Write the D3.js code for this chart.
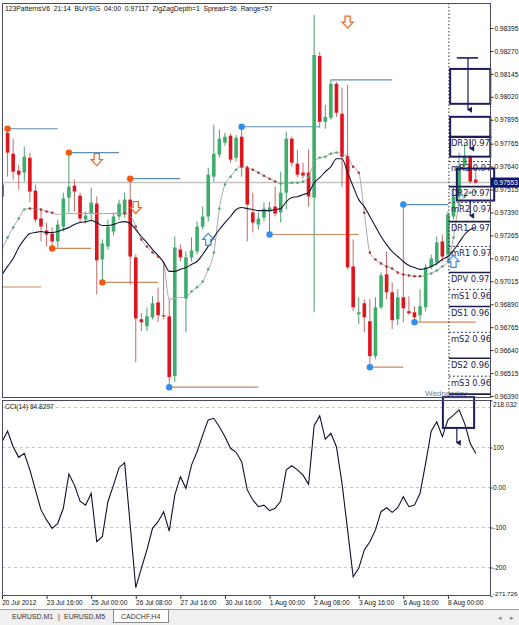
<!DOCTYPE html>
<html><head><meta charset="utf-8">
<script src="https://cdn.jsdelivr.net/npm/d3@7"></script>
<style>
html,body{margin:0;padding:0;background:#fff;}
svg{display:block;font-family:"Liberation Sans",Arial,sans-serif;}
</style></head><body>
<svg id="chart" width="519" height="625"></svg>
<script>
// ---------------- DATA ----------------
const opens = [.97542,.97824,.97710,.97618,.97607,.97688,.97509,.97357,.97292,.97275,.97232,.97313,.97471,.97536,.97482,.97351,.97384,.97438,.97134,.97205,.97286,.97368,.97384,.97460,.97145,.96808,.96770,.96819,.96900,.96830,.96824,.96498,.97188,.96922,.97145,.97178,.97313,.97368,.97585,.97705,.97770,.97808,.97688,.97803,.97634,.97390,.97324,.97362,.97395,.97422,.97390,.97498,.97792,.97656,.97607,.97607,.97471,.98243,.97884,.97906,.98091,.97928,.97694,.97096,.96835,.96895,.96797,.96607,.96873,.97053,.96955,.96808,.96928,.96852,.96846,.96830,.96873,.97091,.97118,.97232,.97161,.97368,.97477,.97645,.97694,.97569];
const highs = [.97558,.97846,.97792,.97650,.97748,.97716,.97542,.97406,.97335,.97308,.97351,.97498,.97716,.97569,.97498,.97395,.97525,.97477,.97243,.97351,.97390,.97460,.97498,.97574,.97161,.96841,.96873,.96933,.96982,.97118,.96917,.97259,.97216,.97178,.97254,.97341,.97422,.97634,.97868,.97841,.97824,.97819,.97813,.97857,.97645,.97498,.97390,.97444,.97449,.97531,.97612,.97830,.97803,.97732,.97661,.97732,.98466,.98265,.97976,.98112,.98101,.98069,.98085,.97243,.96928,.96917,.96917,.96928,.97063,.97178,.97009,.96971,.97433,.96933,.96879,.96971,.97107,.97161,.97259,.97270,.97395,.97531,.97716,.97770,.97705,.97612];
const lows = [.97460,.97585,.97569,.97515,.97558,.97444,.97335,.97232,.97205,.97194,.97199,.97286,.97390,.97395,.97335,.97330,.97341,.96944,.97009,.97188,.97265,.97351,.97362,.96998,.96574,.96743,.96743,.96808,.96792,.96808,.96438,.96466,.97123,.96737,.97123,.97161,.97297,.97341,.97558,.97688,.97754,.97661,.97667,.97585,.97232,.97281,.97297,.97341,.97270,.97368,.97335,.97406,.97639,.97580,.97574,.97422,.96846,.97851,.97846,.97895,.97911,.97531,.97080,.96852,.96781,.96737,.96547,.96591,.96863,.96917,.96754,.96775,.96792,.96830,.96792,.96797,.96852,.97080,.97101,.97123,.97123,.97351,.97460,.97634,.97547,.97547];
const closes = [.97477,.97716,.97612,.97596,.97694,.97504,.97351,.97313,.97270,.97232,.97324,.97466,.97531,.97504,.97357,.97373,.97444,.97129,.97221,.97313,.97368,.97438,.97460,.97150,.96813,.96792,.96824,.96895,.96830,.96824,.96493,.97199,.97145,.97145,.97183,.97313,.97368,.97596,.97710,.97792,.97803,.97678,.97797,.97634,.97433,.97335,.97357,.97411,.97417,.97384,.97498,.97792,.97661,.97596,.97591,.97477,.98248,.97884,.97911,.98091,.97933,.97694,.97091,.96873,.96846,.96819,.96607,.96873,.97047,.96955,.96803,.96928,.96868,.96841,.96819,.96879,.97091,.97139,.97227,.97150,.97379,.97477,.97645,.97694,.97558,.97553];
const maSlow = [.97052,.97096,.97139,.97199,.97243,.97275,.97281,.97286,.97281,.97281,.97286,.97297,.97308,.97324,.97335,.97340,.97346,.97335,.97319,.97319,.97324,.97335,.97340,.97330,.97297,.97259,.97226,.97188,.97156,.97118,.97069,.97069,.97080,.97090,.97107,.97123,.97161,.97205,.97254,.97297,.97335,.97368,.97406,.97417,.97411,.97406,.97400,.97400,.97400,.97406,.97411,.97449,.97471,.97476,.97487,.97498,.97552,.97580,.97612,.97639,.97683,.97683,.97607,.97531,.97460,.97422,.97368,.97313,.97259,.97215,.97177,.97150,.97123,.97101,.97090,.97080,.97085,.97096,.97112,.97134,.97150,.97183,.97226,.97270,.97297,.97308];
const maFast = [.97188,.97254,.97308,.97357,.97406,.97411,.97411,.97406,.97395,.97389,.97378,.97384,.97384,.97384,.97384,.97384,.97384,.97384,.97384,.97384,.97384,.97384,.97384,.97373,.97313,.97243,.97205,.97172,.97150,.97112,.96917,.96922,.96927,.96927,.96960,.96982,.97014,.97080,.97172,.97411,.97542,.97585,.97623,.97645,.97634,.97623,.97607,.97590,.97574,.97558,.97547,.97547,.97552,.97552,.97558,.97585,.97661,.97688,.97694,.97710,.97716,.97710,.97694,.97639,.97607,.97389,.97172,.97134,.97112,.97096,.97085,.97063,.97052,.97047,.97042,.97042,.97047,.97058,.97074,.97096,.97123,.97254,.97433,.97476,.97498,.97503];
const maFastDots = "gggggrrrrrnnnnnnnnnnnnrrrrrrrnnnnggggggggggrrrrrrrgggggggggggrrrrrrrrrrrrrrrggggggggggg";
const cci = [114.5,141,102,75.5,85.5,44,-6,-56,-81,-102,-89.5,-52,34,6,-34,-44,-14.5,-135.5,-123,-35.5,6,49.5,62,-94,-250.5,-202,-156,-102,-85.5,-60.5,-109,-19,27,-2,56,89.5,131,169,173,152,127,98,88,64.5,-6,-31,-48,-44,-58,-52,-34,44,54.5,44,31,8,154.5,179.5,121,135.5,102,10.5,-106,-223,-202,-156,-135.5,-106,-60.5,-50.5,-62,-50.5,-23,-48,-44,-14.5,60.5,141,164.5,127,169,181,194,160.5,110.5,84.83];
const timeLabels = ["20 Jul 2012","23 Jul 16:00","25 Jul 00:00","26 Jul 08:00","27 Jul 16:00","30 Jul 16:00","1 Aug 00:00","2 Aug 08:00","3 Aug 16:00","6 Aug 16:00","8 Aug 00:00"];
const timeIndex = [0,8,16,24,32,40,48,56,64,72,80];
const priceTicks = ["0.98395","0.98270","0.98145","0.98020","0.97895","0.97765","0.97640","0.97515","0.97390","0.97265","0.97140","0.97015","0.96890","0.96765","0.96640","0.96515","0.96390"];
const cciTicks = [218.032,100,0,-100,-200,-271.726];
const cciTickLabels = ["218.032","100","0.00","-100","-200","-271.726"];
const cciGrid = [200,100,0,-100,-200];
// zigzag pivots: bar, price, end bar, kind(high/low), dot colour key
const pivotBar   = [1,12,23,9,18,30,43,48,59,66,72,74,0];
const pivotPrice = [.97846,.97716,.97574,.97194,.97009,.96438,.97857,.97270,.98112,.96547,.97433,.96792,.96984];
const pivotEnd   = [10,21,32,16,28,46,57,64,70,72,80,85,7];
const pivotKind  = ["H","H","H","L","L","L","H","L","H","L","H","L","L"];
const pivotDot   = ["o","o","o","o","o","b","b","b","","b","b","b",""];
// signal arrows
const arrowBar   = [17,24,62,37,81];
const arrowPrice = [.97678,.97417,.98427,.97243,.97123];
const arrowDir   = ["down","down","down","up","up"];
// daily pivot levels (label shows the part visible before the price scale)
const levelNames  = ["DR3","mR3","DR2","mR2","DR1","mR1","DPV","mS1","DS1","mS2","DS2","mS3","DS3"];
const levelValues = [.97802,.97667,.97531,.97444,.97340,.97205,.97063,.96971,.96878,.96737,.96596,.96498,.96400];
const dayStartBar = 80;
const bidPrice = 0.97553;
// pattern boxes [bar0, bar1, price0, price1]
const boxes = [[80.4,87.6,.98172,.97982],[80.4,87.6,.97911,.97802],[80.4,87.6,.97802,.97694],[81.6,88.3,.97629,.97455]];
const cciBox = [79.1,84.7,226,149];

// ---------------- LAYOUT ----------------
const svg = d3.select('#chart');
const L = 2, R = 491, mainTop = 3, mainBot = 398, cciTop = 400, cciBot = 596;
const x = d3.scaleLinear().domain([0, 85]).range([2, 2 + 85 * 5.574]);
const y = d3.scaleLinear().domain([0.96390, 0.98395]).range([396, 28]);
const yc = d3.scaleLinear().domain([-271.726, 218.032]).range([596.2, 400.3]);
const navy = "#1c1c5e";

const defs = svg.append("defs");
defs.append("clipPath").attr("id","cm").append("rect").attr("x",L).attr("y",mainTop).attr("width",R-L).attr("height",mainBot-mainTop);
defs.append("clipPath").attr("id","cc").append("rect").attr("x",L).attr("y",cciTop).attr("width",R-L).attr("height",cciBot-cciTop);
defs.append("clipPath").attr("id","cl").append("rect").attr("x",L).attr("y",mainTop).attr("width",R-L-1).attr("height",mainBot-mainTop);
const mk = defs.append("marker").attr("id","ah").attr("viewBox","0 0 6 6").attr("refX",3).attr("refY",5)
  .attr("markerWidth",5).attr("markerHeight",5).attr("orient","auto-start-reverse");
mk.append("path").attr("d","M0,1 L3,6 L6,1 Z").attr("fill",navy);

svg.append("rect").attr("width",519).attr("height",625).attr("fill","#fff");

const main = svg.append("g").attr("clip-path","url(#cm)");

// bid line
main.append("line").attr("x1",L).attr("x2",R).attr("y1",y(bidPrice)).attr("y2",y(bidPrice))
  .attr("stroke","#c4c4c4").attr("stroke-width",1.6);

// pivot horizontal lines
pivotBar.forEach((b,k)=>{
  main.append("line").attr("x1",x(b)).attr("x2",x(pivotEnd[k])).attr("y1",y(pivotPrice[k])).attr("y2",y(pivotPrice[k]))
    .attr("stroke", pivotKind[k]==="H" ? "#5d8fb3" : "#c98a5e").attr("stroke-width",1.2);
});

// candles
const idx = d3.range(opens.length);
const cw = 3.6;
main.append("g").selectAll("line").data(idx).join("line")
  .attr("x1",i=>x(i)).attr("x2",i=>x(i)).attr("y1",i=>y(highs[i])).attr("y2",i=>y(lows[i]))
  .attr("stroke",i=>closes[i]>=opens[i] ? "#4e9d6e" : "#c46a6a").attr("stroke-width",1);
main.append("g").selectAll("rect").data(idx).join("rect")
  .attr("x",i=>x(i)-cw/2).attr("width",cw)
  .attr("y",i=>y(Math.max(opens[i],closes[i])))
  .attr("height",i=>Math.max(1.2, Math.abs(y(opens[i])-y(closes[i]))))
  .attr("fill",i=>closes[i]>=opens[i] ? "#3fae6c" : "#e0141c");

// moving averages
const lineGen = arr => d3.line().x((d,i)=>x(i)).y(d=>y(d)).curve(d3.curveMonotoneX)(arr);
main.append("path").attr("d",lineGen(maFast)).attr("fill","none").attr("stroke","#a8a8a8").attr("stroke-width",1);
main.append("path").attr("d",lineGen(maSlow)).attr("fill","none").attr("stroke","#141432").attr("stroke-width",1.1);
main.append("g").selectAll("circle").data(idx.filter(i=>maFastDots[i]!=="n")).join("circle")
  .attr("cx",i=>x(i)).attr("cy",i=>y(maFast[i])).attr("r",1.25)
  .attr("fill",i=>maFastDots[i]==="g" ? "#3fae6c" : "#b52a2a");

// zigzag dots
pivotBar.forEach((b,k)=>{
  if(!pivotDot[k]) return;
  main.append("circle").attr("cx",x(b)).attr("cy",y(pivotPrice[k])).attr("r",3.2)
    .attr("fill", pivotDot[k]==="o" ? "#ee5a12" : "#2f8ff0");
});

// hollow arrows
arrowBar.forEach((b,k)=>{
  const cx = x(b), cy = y(arrowPrice[k]);
  const s = arrowDir[k]==="down" ? 1 : -1;
  const p = [[cx-2.6,cy-6*s],[cx+2.6,cy-6*s],[cx+2.6,cy],[cx+5.6,cy],[cx,cy+6*s],[cx-5.6,cy],[cx-2.6,cy]];
  main.append("path").attr("d","M"+p.map(q=>q.join(",")).join("L")+"Z")
    .attr("fill","#fff").attr("fill-opacity",0.6)
    .attr("stroke", arrowDir[k]==="down" ? "#e8642c" : "#3d8ee0").attr("stroke-width",1.2);
});

// day separator
const sepX = x(dayStartBar)+1;
main.append("line").attr("x1",sepX).attr("x2",sepX).attr("y1",mainTop).attr("y2",mainBot)
  .attr("stroke","#333").attr("stroke-dasharray","1.5,2").attr("stroke-width",1);

// pivot levels
const lv = svg.append("g").attr("clip-path","url(#cl)");
levelNames.forEach((n,k)=>{
  const yy = y(levelValues[k]);
  const solid = n[0]==="D";
  lv.append("line").attr("x1",sepX).attr("x2",R).attr("y1",yy).attr("y2",yy)
    .attr("stroke", solid ? "#1f1f4f" : "#3a3a5a").attr("stroke-width", solid ? 1.6 : 1)
    .attr("stroke-dasharray", solid ? null : "2,2");
  if (yy + 9.5 < mainBot) {
    lv.append("text").attr("x",sepX+2).attr("y",yy+9.5).attr("font-size","8.4px").attr("fill","#22224a")
      .attr("font-family","'DejaVu Sans',sans-serif").text(n+" "+levelValues[k].toFixed(5).slice(0,4));
  }
});

// Wednesday label
main.append("text").attr("x",425).attr("y",395.5).attr("font-size","8px").attr("fill","#6e7d96").text("Wednesday");

// pattern boxes
boxes.forEach(b=>{
  svg.append("rect").attr("x",x(b[0])).attr("y",y(b[2])).attr("width",x(b[1])-x(b[0])).attr("height",y(b[3])-y(b[2]))
    .attr("fill","none").attr("stroke",navy).attr("stroke-width",2);
});
svg.append("line").attr("x1",x(81.6)).attr("x2",x(85.4)).attr("y1",y(.98232)).attr("y2",y(.98232)).attr("stroke",navy).attr("stroke-width",1.6);
svg.append("line").attr("x1",x(83.6)).attr("x2",x(83.6)).attr("y1",y(.98232)).attr("y2",y(.97950)).attr("stroke",navy).attr("stroke-width",1.2).attr("marker-end","url(#ah)");
svg.append("line").attr("x1",x(84)).attr("x2",x(84)).attr("y1",y(.97790)).attr("y2",y(.97738)).attr("stroke",navy).attr("stroke-width",1.2).attr("marker-end","url(#ah)");
svg.append("line").attr("x1",x(84)).attr("x2",x(84)).attr("y1",y(.97455)).attr("y2",y(.97372)).attr("stroke",navy).attr("stroke-width",1.2).attr("marker-end","url(#ah)");

// ---------------- CCI ----------------
const cg = svg.append("g").attr("clip-path","url(#cc)");
cciGrid.forEach(v=>{
  cg.append("line").attr("x1",L).attr("x2",R).attr("y1",yc(v)).attr("y2",yc(v))
    .attr("stroke","#b8b8b8").attr("stroke-dasharray","3,3").attr("stroke-width",0.8);
});
cg.append("path").attr("d", d3.line().x((d,i)=>x(i)).y(d=>yc(d))(cci))
  .attr("fill","none").attr("stroke","#10102a").attr("stroke-width",1.1);
svg.append("rect").attr("x",x(cciBox[0])).attr("y",yc(cciBox[2])).attr("width",x(cciBox[1])-x(cciBox[0])).attr("height",yc(cciBox[3])-yc(cciBox[2]))
  .attr("fill","none").attr("stroke",navy).attr("stroke-width",2);
svg.append("line").attr("x1",x(81.6)).attr("x2",x(81.6)).attr("y1",yc(cciBox[3])).attr("y2",yc(112)).attr("stroke",navy).attr("stroke-width",1.2).attr("marker-end","url(#ah)");
svg.append("text").attr("x",5).attr("y",408.5).attr("font-size","6.6px").attr("fill","#111").text("CCI(14) 84.8297");

// panel borders
svg.append("rect").attr("x",L+0.5).attr("y",mainTop+0.5).attr("width",R-L-1).attr("height",mainBot-mainTop-1).attr("fill","none").attr("stroke","#4a4a60");
svg.append("rect").attr("x",L+0.5).attr("y",cciTop+0.5).attr("width",R-L-1).attr("height",cciBot-cciTop-1).attr("fill","none").attr("stroke","#4a4a60");

// ---------------- AXES ----------------
const axFont = "6.6px";
const pa = svg.append("g").attr("transform",`translate(${R-0.5},0)`)
  .call(d3.axisRight(y).tickValues(priceTicks.map(Number)).tickFormat((d,i)=>priceTicks[i]).tickSize(3).tickPadding(1));
pa.select(".domain").remove();
pa.selectAll("text").attr("font-size",axFont).attr("font-family","'Liberation Sans',Arial,sans-serif").attr("fill","#111");
pa.selectAll("line").attr("stroke","#333");

// current price tag
svg.append("rect").attr("x",R).attr("y",y(bidPrice)-5).attr("width",28).attr("height",10).attr("fill","#0a1470");
svg.append("text").attr("x",R+3).attr("y",y(bidPrice)+2.4).attr("font-size",axFont).attr("fill","#fff").text(bidPrice.toFixed(5));

const ca = svg.append("g").attr("transform",`translate(${R-0.5},0)`)
  .call(d3.axisRight(yc).tickValues(cciTicks).tickFormat((d,i)=>cciTickLabels[i]).tickSize(2).tickPadding(0.5));
ca.select(".domain").remove();
ca.selectAll("text").attr("font-size",axFont).attr("font-family","'Liberation Sans',Arial,sans-serif").attr("fill","#111")
  .attr("dy",(d,i)=> i===0 ? "0.95em" : (i===cciTicks.length-1 ? "-0.1em" : "0.32em"));
ca.selectAll("text").filter((d,i)=>i===cciTicks.length-1).attr("font-size","6.2px");
ca.selectAll("line").attr("stroke","#333");

const ta = svg.append("g").attr("transform",`translate(0,${cciBot})`)
  .call(d3.axisBottom(x).tickValues(timeIndex).tickFormat((d,i)=>timeLabels[i]).tickSize(3).tickPadding(1));
ta.select(".domain").remove();
ta.selectAll("text").attr("font-size",axFont).attr("font-family","'Liberation Sans',Arial,sans-serif").attr("fill","#111")
  .attr("text-anchor","start").attr("dx","-0.3");
ta.selectAll("line").attr("stroke","#333");

// header
svg.append("text").attr("x",5).attr("y",10.5).attr("font-size","6.8px").attr("fill","#111").style("white-space","pre")
  .text("123PatternsV6  21:14  BUYSIG  04:00  0.97117  ZigZagDepth=1  Spread=36  Range=57");

// tab bar
svg.append("rect").attr("x",0).attr("y",609).attr("width",519).attr("height",16).attr("fill","#f0f0f0");
svg.append("line").attr("x1",0).attr("x2",519).attr("y1",609.5).attr("y2",609.5).attr("stroke","#a0a0a0");
svg.append("rect").attr("x",113.5).attr("y",609.5).attr("width",55).attr("height",13).attr("fill","#fff").attr("stroke","#8a8a8a");
const tabs = [["EURUSD,M1",12],["|",58],["EURUSD,M5",64],["CADCHF,H4",121]];
tabs.forEach(t=>svg.append("text").attr("x",t[1]).attr("y",619).attr("font-size","7px").attr("fill","#333").text(t[0]));
svg.append("text").attr("x",498).attr("y",620).attr("font-size","7px").attr("fill","#888").text("◂");
svg.append("text").attr("x",510).attr("y",620).attr("font-size","7px").attr("fill","#888").text("▸");
</script>
</body></html>
